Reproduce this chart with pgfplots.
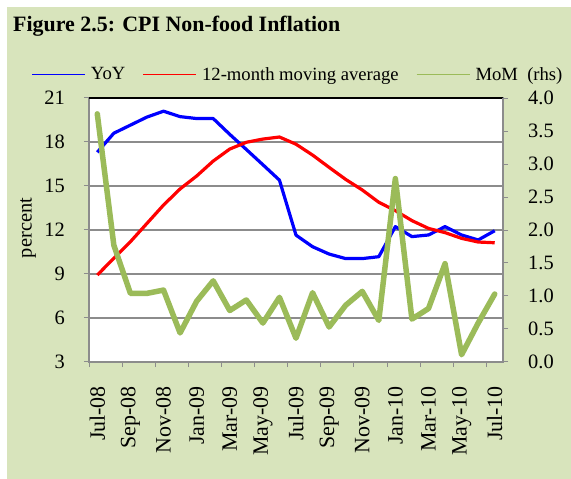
\documentclass[border=0pt]{standalone}
\usepackage{pgfplots}
\pgfplotsset{compat=1.18}
\usepackage{fontspec}
\setmainfont{Liberation Serif}
\definecolor{bggreen}{HTML}{D8E4BC}
\definecolor{momgreen}{HTML}{9BBB59}
\definecolor{gridgray}{HTML}{8C8C8C}
\begin{document}
\begin{tikzpicture}[font=\fontsize{20.5}{24}\selectfont]
\useasboundingbox (0,0) rectangle (571bp,479bp);
\fill[white] (0,0) rectangle (571bp,479bp);
\fill[bggreen] (7bp,0) rectangle (571bp,472bp);
\node[anchor=west, inner sep=0pt, font=\fontsize{22}{26}\selectfont\bfseries] at (13bp,453bp) {Figure 2.5: CPI Non-food Inflation};
\begin{axis}[
  scale only axis, width=414bp, height=264bp,
  at={(89bp,117bp)}, anchor=south west,
  axis background/.style={fill=white},
  xmin=-0.5, xmax=24.5, ymin=3, ymax=21,
  ytick={3,6,...,21}, ytick pos=left,
  xtick={0,2,...,24}, xtick pos=bottom,
  xticklabels={Jul-08,Sep-08,Nov-08,Jan-09,Mar-09,May-09,Jul-09,Sep-09,Nov-09,Jan-10,Mar-10,May-10,Jul-10},
  x tick label style={rotate=90, anchor=east, inner xsep=19bp, font=\fontsize{22}{26}\selectfont},
  y tick label style={inner xsep=19bp},
  major x tick style={draw=none},
  minor xtick={-0.5,1.5,...,23.5},
  minor x tick style={draw=gridgray, line width=1bp},
  tick align=outside, major tick length=5bp, minor tick length=5bp,
  y tick style={draw=gridgray, line width=1bp},
  ymajorgrids, grid style={draw=gridgray, line width=1.2bp},
  axis line style={draw=gridgray, line width=1.2bp},
  /pgf/number format/assume math mode=true,
  ylabel={percent},
  ylabel style={anchor=center, at={(-61bp,134bp)}},
  legend columns=-1,
  legend image code/.code={\draw[#1, line width=1.8bp] (0bp,0bp) -- (53bp,0bp);},
  legend style={draw=none, fill=none, inner sep=0pt, at={(-58bp,287.4bp)}, anchor=west,
    font=\fontsize{18.7}{22}\selectfont,
    /tikz/every odd column/.append style={column sep=3bp},
    /tikz/every even column/.append style={column sep=15bp}},
]
\addplot[blue, line width=3.2bp, line join=round] coordinates {
(0,17.3) (1,18.6) (2,19.15) (3,19.7) (4,20.1) (5,19.73) (6,19.6) (7,19.6)
(8,18.52) (9,17.49) (10,16.45) (11,15.4) (12,11.65) (13,10.86) (14,10.36)
(15,10.05) (16,10.05) (17,10.18) (18,12.23) (19,11.55) (20,11.66) (21,12.23)
(22,11.66) (23,11.32) (24,11.95)};
\addlegendentry{YoY}
\addplot[red, line width=3.2bp, line join=round] coordinates {
(0,8.93) (1,10.07) (2,11.2) (3,12.45) (4,13.7) (5,14.8) (6,15.68) (7,16.7)
(8,17.52) (9,17.98) (10,18.2) (11,18.34) (12,17.85) (13,17.11) (14,16.27)
(15,15.45) (16,14.73) (17,13.89) (18,13.32) (19,12.64) (20,12.11) (21,11.82)
(22,11.43) (23,11.18) (24,11.13)};
\addlegendentry{12-month moving average}
\addlegendimage{momgreen}
\addlegendentry{MoM\ \ (rhs)}
\draw[black, line width=1.4bp] (rel axis cs:0,1) -- (rel axis cs:1,1);
\end{axis}
\begin{axis}[
  scale only axis, width=414bp, height=264bp,
  at={(89bp,117bp)}, anchor=south west,
  xmin=-0.5, xmax=24.5, ymin=0, ymax=4,
  axis x line=none, axis y line*=right,
  ytick={0,0.5,...,4},
  yticklabel style={inner xsep=20bp, /pgf/number format/.cd, fixed, fixed zerofill, precision=1},
  /pgf/number format/assume math mode=true,
  tick align=outside, major tick length=5bp,
  y tick style={draw=gridgray, line width=1bp},
  axis line style={draw=gridgray, line width=1.2bp},
]
\addplot[momgreen, line width=5.5bp, line join=round, line cap=round] coordinates {
(0,3.76) (1,1.77) (2,1.04) (3,1.04) (4,1.09) (5,0.44) (6,0.92) (7,1.23)
(8,0.78) (9,0.94) (10,0.59) (11,0.98) (12,0.36) (13,1.05) (14,0.53)
(15,0.86) (16,1.07) (17,0.63) (18,2.78) (19,0.65) (20,0.81) (21,1.49)
(22,0.11) (23,0.59) (24,1.03)};
\end{axis}
\end{tikzpicture}
\end{document}
